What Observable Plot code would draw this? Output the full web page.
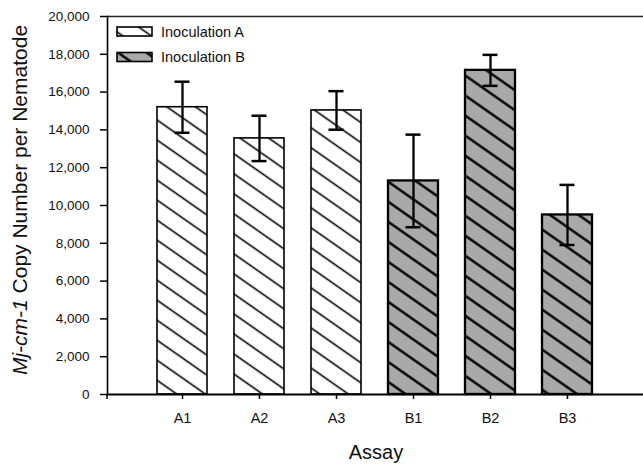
<!DOCTYPE html>
<html>
<head>
<meta charset="utf-8">
<script src="https://cdn.jsdelivr.net/npm/d3@7"></script>
<script src="https://cdn.jsdelivr.net/npm/@observablehq/plot@0.6"></script>
<style>
  html, body { margin: 0; padding: 0; background: white; }
  #chart { width: 643px; height: 466px; }
</style>
</head>
<body>
<div id="chart"></div>
<script>
// ---- data ----
const assays = ["A1", "A2", "A3", "B1", "B2", "B3"];
const groups = ["A", "A", "A", "B", "B", "B"];
const means  = [15200, 13550, 15030, 11300, 17150, 9500];
const errors = [1350, 1200, 1020, 2450, 820, 1590];
const yTicks = [0, 2000, 4000, 6000, 8000, 10000, 12000, 14000, 16000, 18000, 20000];
const legendLabels = ["Inoculation A", "Inoculation B"];
const xLabel = "Assay";
const yLabelItalic = "Mj-cm-1";
const yLabelRest = " Copy Number per Nematode";

const data = assays.map((a, i) => ({assay: a, group: groups[i], mean: means[i], err: errors[i]}));
const dataA = data.filter(d => d.group === "A");
const dataB = data.filter(d => d.group === "B");

const font = "'Liberation Sans', Arial, Helvetica, sans-serif";

const svg = Plot.plot({
  width: 643,
  height: 466,
  marginLeft: 107,
  marginRight: 0,
  marginTop: 16,
  marginBottom: 72,
  style: {fontFamily: font, background: "white", color: "black"},
  x: {domain: assays, paddingInner: 0.35, paddingOuter: 0.651, label: null},
  y: {domain: [0, 20000], label: null},
  marks: [
    Plot.barY(dataA, {x: "assay", y: "mean", fill: "url(#hatchA)", stroke: "black", strokeWidth: 1.6}),
    Plot.barY(dataB, {x: "assay", y: "mean", fill: "url(#hatchB)", stroke: "black", strokeWidth: 2.3}),
    Plot.ruleX(data, {x: "assay", y1: d => d.mean - d.err, y2: d => d.mean + d.err, stroke: "black", strokeWidth: 2.3}),
    Plot.tickY(data, {x: "assay", y: d => d.mean + d.err, insetLeft: 17.5, insetRight: 17.5, stroke: "black", strokeWidth: 2.5}),
    Plot.tickY(data, {x: "assay", y: d => d.mean - d.err, insetLeft: 17.5, insetRight: 17.5, stroke: "black", strokeWidth: 2.5}),
    Plot.ruleY([20000], {stroke: "#222", strokeWidth: 1.3}),
    Plot.ruleY([0], {stroke: "black", strokeWidth: 2}),
    Plot.frame({anchor: "left", stroke: "black", strokeWidth: 1.6}),
    Plot.axisY({ticks: yTicks, tickFormat: d3.format(","), tickSize: 7, tickPadding: 11, label: null, strokeWidth: 1.5, fontSize: 13.5, fill: "#111"}),
    Plot.axisX({tickSize: 5, tickPadding: 13, label: null, strokeWidth: 1.5, fontSize: 14.5, fill: "#111"})
  ]
});

document.getElementById("chart").appendChild(svg);

const s = d3.select(svg);

s.insert("defs", ":first-child").html(`
  <pattern id="hatchA" patternUnits="userSpaceOnUse" width="10" height="16.4" patternTransform="rotate(35)">
    <rect width="10" height="16.4" fill="white"/>
    <line x1="0" x2="10" y1="8.2" y2="8.2" stroke="black" stroke-width="1.6"/>
  </pattern>
  <pattern id="hatchB" patternUnits="userSpaceOnUse" width="10" height="16.4" patternTransform="rotate(35)">
    <rect width="10" height="16.4" fill="#a9a9a9"/>
    <line x1="0" x2="10" y1="8.2" y2="8.2" stroke="black" stroke-width="2.4"/>
  </pattern>
`);

// left-end tick under x axis
s.append("line").attr("x1", 107).attr("x2", 107).attr("y1", 394).attr("y2", 399)
  .attr("stroke", "black").attr("stroke-width", 1.5);

// legend
const lg = s.append("g").attr("font-family", font).attr("text-anchor", "start");
legendLabels.forEach((lab, i) => {
  const y0 = 27 + i * 25.5;
  lg.append("rect").attr("x", 117).attr("y", y0).attr("width", 35).attr("height", 9)
    .attr("fill", i === 0 ? "url(#hatchA)" : "url(#hatchB)")
    .attr("stroke", "black").attr("stroke-width", 1.6);
  lg.append("text").attr("x", 161).attr("y", y0 + 9.5).attr("font-size", 14.5)
    .attr("text-anchor", "start").attr("fill", "#111").text(lab);
});

// x label
s.append("text").attr("x", 376).attr("y", 459).attr("text-anchor", "middle")
  .attr("font-family", font).attr("font-size", 20).attr("fill", "#111").text(xLabel);

// y label
const yl = s.append("text").attr("transform", "translate(27,200) rotate(-90)")
  .attr("text-anchor", "middle").attr("font-family", font).attr("font-size", 21).attr("fill", "#111");
yl.append("tspan").attr("font-style", "italic").text(yLabelItalic);
yl.append("tspan").text(yLabelRest);
</script>
</body>
</html>
